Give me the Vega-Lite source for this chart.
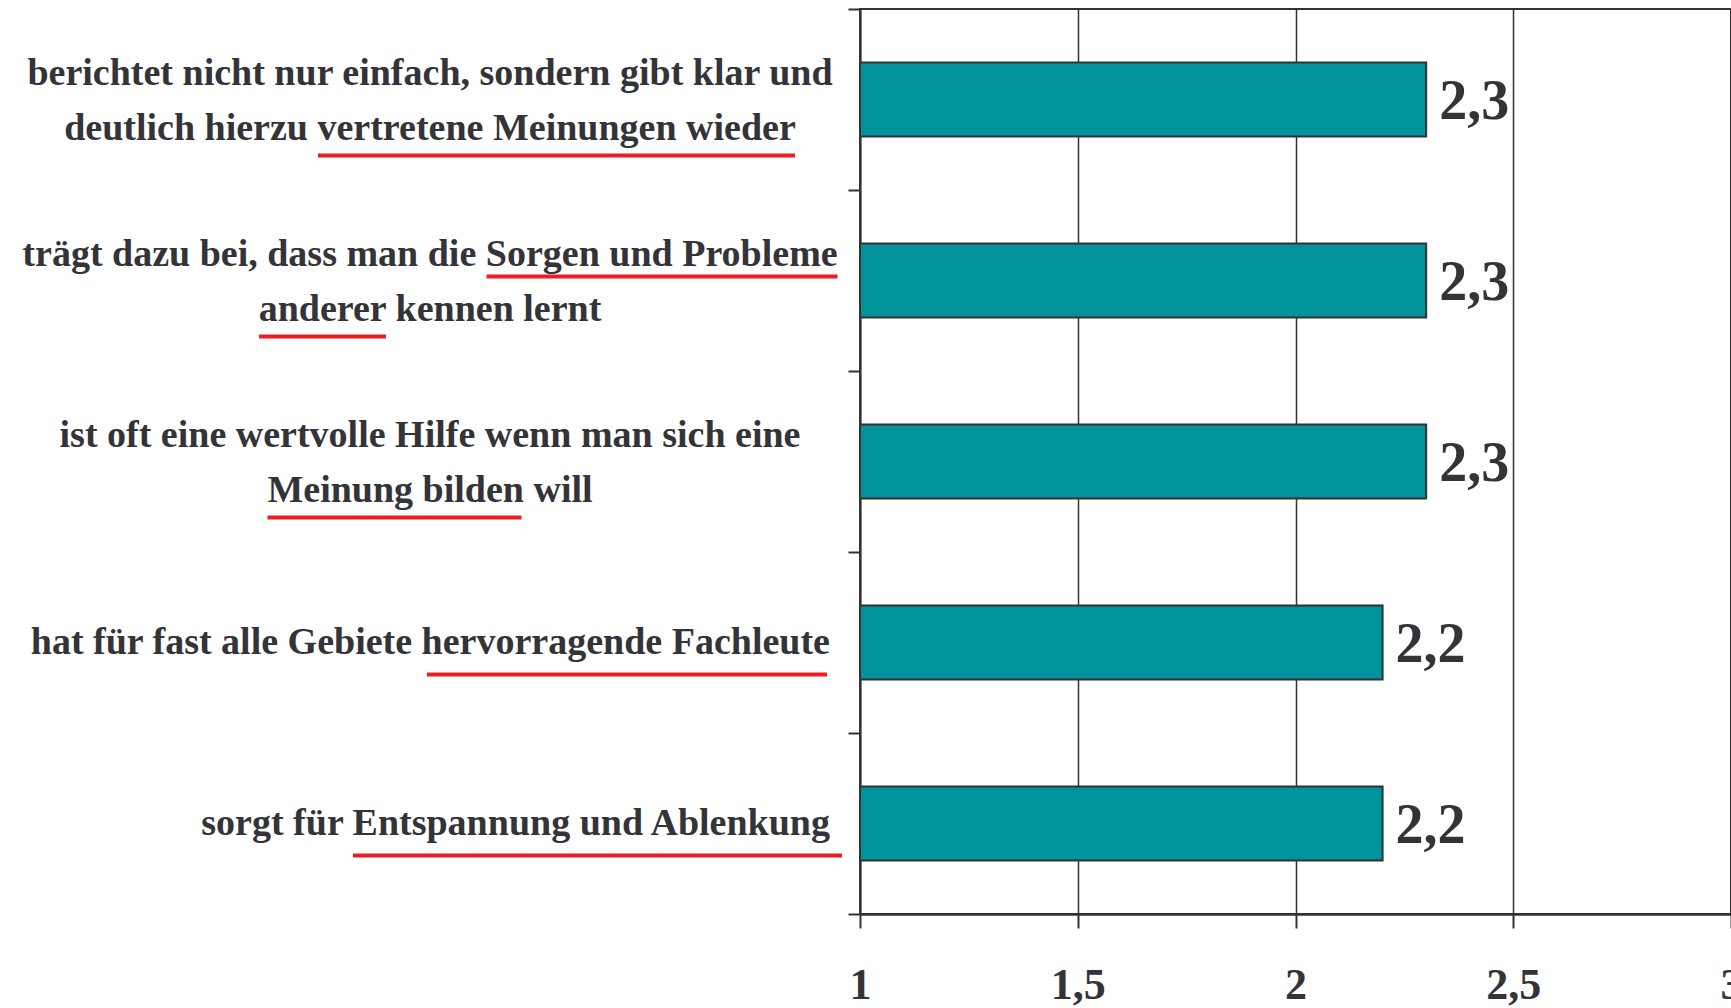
{
  "$schema": "https://vega.github.io/schema/vega-lite/v6.json",
  "width": 871,
  "height": 905,
  "autosize": {"type": "none"},
  "padding": {"left": 860, "top": 9, "right": 0, "bottom": 94},
  "background": "white",
  "config": {
    "locale": {"number": {"decimal": ",", "thousands": ".", "grouping": [3], "currency": ["", " €"]}},
    "view": {"stroke": "#333333", "strokeWidth": 2},
    "font": "Liberation Serif"
  },
  "datasets": {
    "items": [
      {"item": "berichtet nicht nur einfach, sondern gibt  klar und|deutlich hierzu vertretene Meinungen wieder", "value": 2.3},
      {"item": "trägt dazu bei, dass man die Sorgen und Probleme|anderer kennen lernt", "value": 2.3},
      {"item": "ist oft eine wertvolle Hilfe wenn man sich eine|Meinung bilden will", "value": 2.3},
      {"item": "hat für fast alle Gebiete hervorragende Fachleute", "value": 2.2},
      {"item": "sorgt für Entspannung und Ablenkung", "value": 2.2}
    ],
    "underlines": [
      {"item": "berichtet nicht nur einfach, sondern gibt  klar und|deutlich hierzu vertretene Meinungen wieder", "line": "l2", "from": -0.2446, "to": 0.8507},
      {"item": "trägt dazu bei, dass man die Sorgen und Probleme|anderer kennen lernt", "line": "l1", "from": 0.1424, "to": 0.9483},
      {"item": "trägt dazu bei, dass man die Sorgen und Probleme|anderer kennen lernt", "line": "l2", "from": -0.38, "to": -0.0884},
      {"item": "ist oft eine wertvolle Hilfe wenn man sich eine|Meinung bilden will", "line": "l2", "from": -0.3605, "to": 0.2227},
      {"item": "hat für fast alle Gebiete hervorragende Fachleute", "line": "single", "from": 0.0057, "to": 0.9242},
      {"item": "sorgt für Entspannung und Ablenkung", "line": "single", "from": -0.1642, "to": 0.9587}
    ]
  },
  "encoding": {
    "y": {
      "field": "item",
      "type": "nominal",
      "sort": null,
      "scale": {"paddingInner": 0, "paddingOuter": 0, "domain": [
        "berichtet nicht nur einfach, sondern gibt  klar und|deutlich hierzu vertretene Meinungen wieder",
        "trägt dazu bei, dass man die Sorgen und Probleme|anderer kennen lernt",
        "ist oft eine wertvolle Hilfe wenn man sich eine|Meinung bilden will",
        "hat für fast alle Gebiete hervorragende Fachleute",
        "sorgt für Entspannung und Ablenkung"
      ]},
      "axis": {
        "title": null,
        "labels": false,
        "tickBand": "extent",
        "domainColor": "#333333",
        "domainWidth": 2,
        "tickColor": "#333333",
        "tickWidth": 2,
        "tickSize": 12
      }
    }
  },
  "layer": [
    {
      "data": {"name": "items"},
      "mark": {"type": "bar", "height": {"band": 0.41}, "fill": "#01939c", "stroke": "#333333", "strokeWidth": 2},
      "encoding": {
        "x": {
          "field": "value",
          "type": "quantitative",
          "scale": {"domain": [1, 3], "nice": false, "zero": false},
          "axis": {
            "title": null,
            "values": [1, 1.5, 2, 2.5, 3],
            "format": ".1~f",
            "grid": true,
            "gridColor": "#333333",
            "gridWidth": 1.5,
            "gridOpacity": 1,
            "domainColor": "#333333",
            "domainWidth": 2.5,
            "tickColor": "#333333",
            "tickWidth": 2,
            "tickSize": 14,
            "labelPadding": 35,
            "labelFont": "Liberation Serif",
            "labelFontWeight": "bold",
            "labelFontSize": 44,
            "labelColor": "#343338",
            "labelFlush": false,
            "labelOverlap": false
          }
        },
        "x2": {"datum": 1}
      }
    },
    {
      "data": {"name": "items"},
      "mark": {"type": "text", "align": "left", "baseline": "middle", "dx": 13, "dy": 2, "font": "Liberation Serif", "fontWeight": "bold", "fontSize": 56, "color": "#343338"},
      "encoding": {
        "x": {"field": "value", "type": "quantitative"},
        "text": {"field": "value", "type": "quantitative", "format": ".1f"}
      }
    },
    {
      "data": {"name": "items"},
      "transform": [{"filter": "indexof(datum.item, '|') < 0"}],
      "mark": {"type": "text", "align": "right", "baseline": "middle", "dx": -30, "font": "Liberation Serif", "fontWeight": "bold", "fontSize": 38, "color": "#343338"},
      "encoding": {
        "x": {"datum": 1},
        "text": {"field": "item"}
      }
    },
    {
      "data": {"name": "items"},
      "transform": [{"filter": "indexof(datum.item, '|') >= 0"}],
      "mark": {"type": "text", "align": "center", "baseline": "middle", "dx": -430, "dy": -26, "lineBreak": "|", "lineHeight": 55, "font": "Liberation Serif", "fontWeight": "bold", "fontSize": 38, "color": "#343338"},
      "encoding": {
        "x": {"datum": 1},
        "text": {"field": "item"}
      }
    },
    {
      "data": {"name": "underlines"},
      "transform": [{"filter": "datum.line === 'l1'"}],
      "mark": {"type": "rule", "color": "#ed1c24", "strokeWidth": 4, "yOffset": -4},
      "encoding": {
        "x": {"field": "from", "type": "quantitative"},
        "x2": {"field": "to"}
      }
    },
    {
      "data": {"name": "underlines"},
      "transform": [{"filter": "datum.line === 'l2'"}],
      "mark": {"type": "rule", "color": "#ed1c24", "strokeWidth": 4, "yOffset": 56},
      "encoding": {
        "x": {"field": "from", "type": "quantitative"},
        "x2": {"field": "to"}
      }
    },
    {
      "data": {"name": "underlines"},
      "transform": [{"filter": "datum.line === 'single'"}],
      "mark": {"type": "rule", "color": "#ed1c24", "strokeWidth": 4, "yOffset": 32},
      "encoding": {
        "x": {"field": "from", "type": "quantitative"},
        "x2": {"field": "to"}
      }
    }
  ]
}
